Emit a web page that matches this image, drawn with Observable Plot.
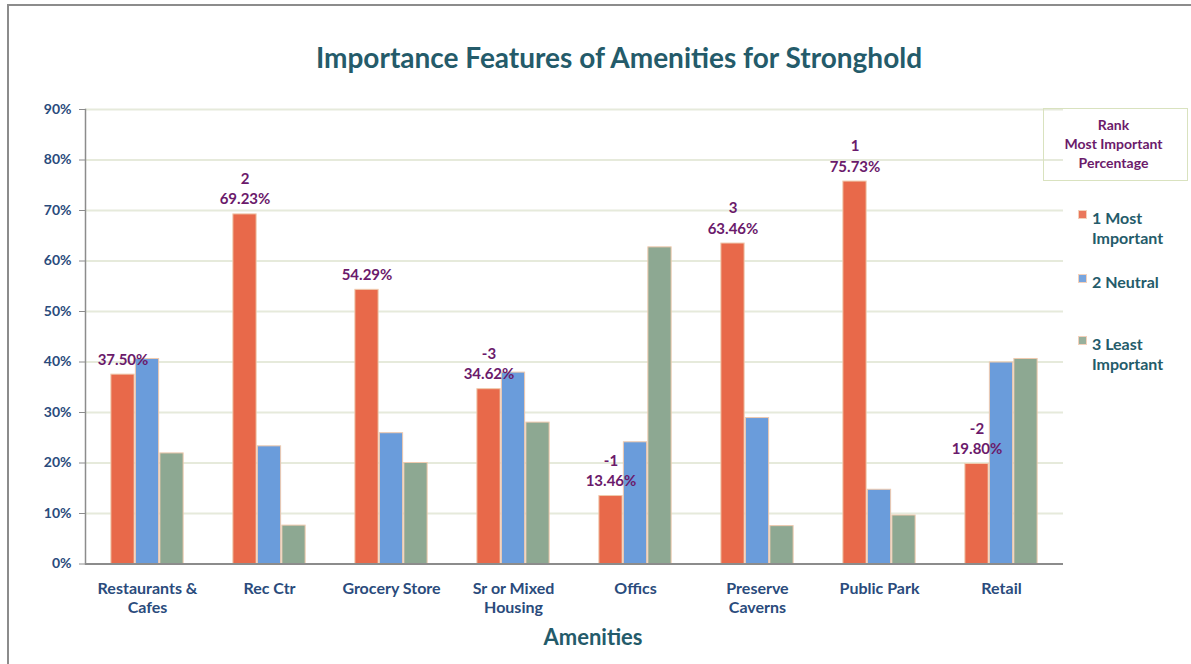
<!DOCTYPE html>
<html>
<head>
<meta charset="utf-8">
<script src="https://cdn.jsdelivr.net/npm/d3@7"></script>
<script src="https://cdn.jsdelivr.net/npm/@observablehq/plot@0.6"></script>
<style>
  body { margin: 0; background: #fff; font-family: Lato, "Open Sans", sans-serif; }
  #wrap { position: relative; width: 1191px; height: 664px; overflow: hidden; background: #fff; }
  #border { position: absolute; left: 7px; top: 4px; width: 1200px; height: 700px; border: 2px solid #8c8c8c; box-sizing: border-box; }
  #chart { position: absolute; left: 0; top: 0; }
  #title { position: absolute; left: 0; width: 1238px; top: 39px; text-align: center; font-size: 28px; font-weight: 700; color: #245b6a; line-height: 36px; }
  #xtitle { position: absolute; left: 0; width: 1186px; top: 623px; text-align: center; font-size: 22px; font-weight: 700; color: #245b6a; line-height: 28px; }
  #legbox { position: absolute; left: 1043px; top: 108px; width: 145px; height: 73px; border: 1.5px solid #d9e2bf; box-sizing: border-box; }
  #legtitle { position: absolute; left: 1041px; width: 145px; top: 115px; text-align: center; font-size: 14px; font-weight: 700; color: #6b1a6b; line-height: 19px; }
  .item { position: absolute; left: 1078px; font-size: 16px; font-weight: 700; color: #245b6a; line-height: 20px; }
  .sw { position: absolute; left: 0; width: 9px; height: 9px; border: 1px solid #f2cdb4; box-sizing: border-box; }
  .lt { position: absolute; left: 14px; white-space: nowrap; }
</style>
</head>
<body>
<div id="wrap">
  <div id="border"></div>
  <div id="chart"></div>
  <div id="title"></div>
  <div id="xtitle"></div>
  <div id="legbox"></div>
  <div id="legtitle"></div>
  <div id="legend"></div>
</div>
<script>
const titleText = "Importance Features of Amenities for Stronghold";
const xAxisTitle = "Amenities";
const legendTitle = ["Rank", "Most Important", "Percentage"];
const categories = ["Restaurants &\nCafes", "Rec Ctr", "Grocery Store", "Sr or Mixed\nHousing", "Offics", "Preserve\nCaverns", "Public Park", "Retail"];
const seriesNames = ["1 Most\nImportant", "2 Neutral", "3 Least\nImportant"];
const seriesColors = ["#e8694a", "#6a9cdb", "#8da892"];
const mostImportant = [37.50, 69.23, 54.29, 34.62, 13.46, 63.46, 75.73, 19.80];
const neutral = [40.6, 23.3, 25.9, 37.9, 24.1, 28.9, 14.7, 39.9];
const leastImportant = [21.9, 7.6, 20.0, 28.0, 62.7, 7.5, 9.6, 40.6];
const rankLabels = ["", "2", "", "-3", "-1", "3", "1", "-2"];
const yTicks = [0, 10, 20, 30, 40, 50, 60, 70, 80, 90];

const seriesValues = [mostImportant, neutral, leastImportant];
const rows = seriesValues.map((vals, s) => categories.map((c, i) => ({
  category: c, series: seriesNames[s], value: vals[i]
})));
const labelRows = categories.map((c, i) => ({
  category: c,
  value: mostImportant[i],
  label: (rankLabels[i] ? rankLabels[i] + "\n" : "") + mostImportant[i].toFixed(2) + "%"
}));

const band = (1191 - 85 - 128) / categories.length;
const barW = 23.5;
const offsets = [-24.5, 0, 24.5];
const barMarks = rows.map((data, s) => Plot.barY(data, {
  x: "category", y: "value",
  fill: seriesColors[s],
  stroke: "#efc9ad", strokeWidth: 1,
  insetLeft: (band - barW) / 2 + offsets[s],
  insetRight: (band - barW) / 2 - offsets[s]
}));

const chart = Plot.plot({
  width: 1191, height: 664,
  marginLeft: 85, marginRight: 128, marginTop: 109, marginBottom: 100.5,
  style: { fontFamily: "Lato, 'Open Sans', sans-serif", background: "transparent", overflow: "visible" },
  x: { domain: categories, padding: 0 },
  y: { domain: [0, 90] },
  marks: [
    Plot.gridY(yTicks, { stroke: "#e6eadb", strokeOpacity: 1, strokeWidth: 2 }),
    ...barMarks,
    Plot.ruleY([0], { stroke: "#8c8c8c", strokeWidth: 2 }),
    Plot.frame({ anchor: "left", stroke: "#8c8c8c", strokeWidth: 1.5 }),
    Plot.axisY({ ticks: yTicks, tickFormat: d => d + "%", tickSize: 6, tickPadding: 8, fontSize: 14, fontWeight: "bold", fill: "#2a4b7c", stroke: "#8c8c8c", label: null }),
    Plot.axisX({ tickSize: 0, tickPadding: 16.5, fontSize: 16, fontWeight: "bold", fill: "#2a4b7c", lineHeight: 1.2, label: null }),
    Plot.text(labelRows, {
      x: "category", y: "value", text: "label",
      dx: offsets[0], dy: -10, lineAnchor: "bottom", lineHeight: 1.35,
      fontSize: 15, fontWeight: "bold", fill: "#6b1a6b"
    })
  ]
});
document.getElementById("chart").appendChild(chart);
document.getElementById("title").textContent = titleText;
document.getElementById("xtitle").textContent = xAxisTitle;
document.getElementById("legtitle").innerHTML = legendTitle.join("<br>");

const itemTops = [208, 272, 334];
const legend = document.getElementById("legend");
seriesNames.forEach((name, i) => {
  const it = document.createElement("div");
  it.className = "item";
  it.style.top = itemTops[i] + "px";
  const sw = document.createElement("div");
  sw.className = "sw";
  sw.style.top = "2px";
  sw.style.background = seriesColors[i];
  sw.style.opacity = 0.9;
  const lt = document.createElement("div");
  lt.className = "lt";
  lt.innerHTML = name.replace("\n", "<br>");
  it.appendChild(sw); it.appendChild(lt);
  legend.appendChild(it);
});
</script>
</body>
</html>
